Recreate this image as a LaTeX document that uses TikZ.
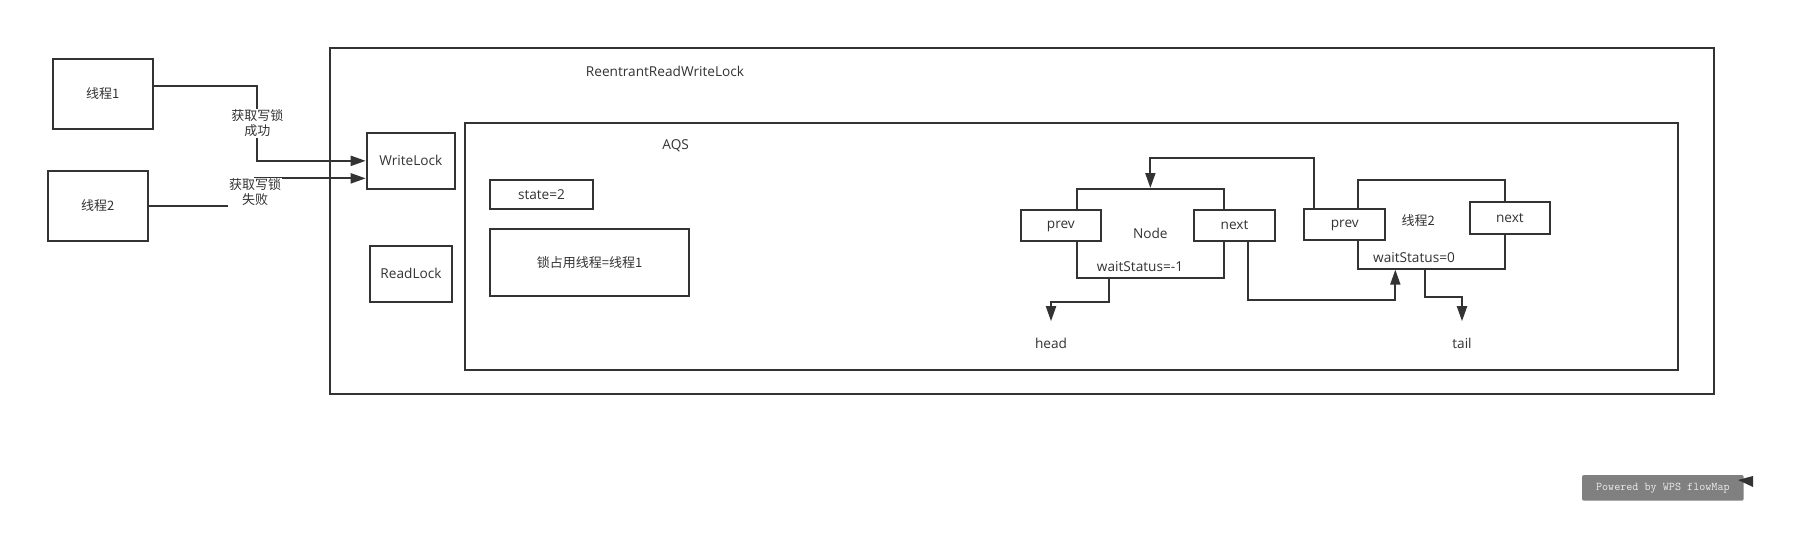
\documentclass[tikz,border=0pt]{standalone}
\usepackage{fontspec}
\setmainfont{Open Sans}[Scale=1.05]
\newfontfamily\cjk{Noto Sans CJK SC}
\usetikzlibrary{arrows.meta, calc}
\definecolor{ink}{HTML}{333333}
\definecolor{badgegray}{HTML}{808080}
\definecolor{badgetext}{HTML}{EBEBEB}

\begin{document}
\begin{tikzpicture}[x=1pt, y=1pt, line width=2pt, color=ink,
  font=\fontsize{13}{15}\selectfont,
  box/.style={draw, fill=white, inner sep=0pt},
  prevbox/.style={box, text height=0.9em},
  lbl/.style={fill=white, inner sep=1pt, align=center, font=\fontsize{13}{15}\selectfont\cjk},
  txt/.style={inner sep=2pt},
  arr/.style={-{Triangle[length=15pt, width=10pt]}},
  badge/.style={fill=badgegray, text=badgetext, rounded corners=2pt, inner sep=0pt,
    font=\ttfamily\fontsize{11.8}{13}\selectfont}]
  \useasboundingbox (0,0) rectangle (1806,-543);

  \node[box, minimum width=1384.5pt, minimum height=346.6pt] (rrwl) at (1021.75,-221) {};
  \node[txt] (rrwltitle) at (665,-71) {ReentrantReadWriteLock};
  \node[box, minimum width=1213.2pt, minimum height=247.5pt] (aqs) at (1071.4,-246.25) {};
  \node[txt] (aqstitle) at (675.7,-146) {AQS};

  \node[box, minimum width=100.3pt, minimum height=70.3pt] (t1) at (102.85,-93.85) {\cjk 线程1};
  \node[box, minimum width=100.3pt, minimum height=70.3pt] (t2) at (97.85,-205.85) {\cjk 线程2};
  \node[box, minimum width=88.3pt, minimum height=56.3pt] (wlock) at (410.85,-160.85) {WriteLock};
  \node[box, minimum width=82.6pt, minimum height=56.3pt] (rlock) at (411,-273.85) {ReadLock};
  \node[box, minimum width=103.6pt, minimum height=29.3pt] (state) at (541.5,-194.35) {state=2};
  \node[box, minimum width=199.6pt, minimum height=67.3pt] (owner) at (589.5,-262.35) {\cjk 锁占用线程=线程1};

  \node[box, minimum width=146.7pt, minimum height=88.7pt] (nd) at (1150.35,-233.35) {Node};
  \node[prevbox, minimum width=79.7pt, minimum height=31pt] (p1) at (1060.85,-225.2) {prev};
  \node[box, minimum width=81pt, minimum height=31pt] (x1) at (1234.5,-225.2) {next};
  \node[txt] (ws1) at (1140,-266.7) {waitStatus=-1};

  \node[box, minimum width=147.3pt, minimum height=88.7pt] (n2) at (1431.35,-224.35) {};
  \node[txt] (n2name) at (1418.3,-221) {\cjk 线程2};
  \node[prevbox, minimum width=81pt, minimum height=31.3pt] (p2) at (1344.8,-224.35) {prev};
  \node[box, minimum width=80.3pt, minimum height=31.4pt] (x2) at (1509.85,-218) {next};
  \node[txt] (ws2) at (1414,-257.3) {waitStatus=0};

  \node[txt] (head) at (1051,-343.3) {head};
  \node[txt] (tail) at (1462,-343.3) {tail};

  \draw[arr] ($(t1.east)+(0,8.15)$) -| node[lbl, pos=0.75] {获取写锁\\成功}
    ($(wlock.west)+(-108.4,0)$) -- (wlock.west);
  \draw[arr] (t2.east) -| node[lbl, pos=0.75] {获取写锁\\失败}
    ($(wlock.west)+(-110.7,-17.5)$) -- ($(wlock.west)+(0,-17.5)$);

  \draw[arr] ($(p2.north west)+(11,0)$) |- ($(nd.north)+(0,29.7)$) -- (nd.north);
  \draw[arr] ($(nd.south west)+(33,0)$) -- ++(0,-23.3) -| ($(head.north)+(0,13.85)$);
  \draw[arr] ($(x1.south)+(13.5,0)$) -- ++(0,-58) -| ($(n2.south west)+(38.6,0)$);
  \draw[arr] ($(n2.south west)+(68,0)$) -- ++(0,-27.3) -| ($(tail.north)+(0,13.85)$);

  \node[badge, minimum width=161.7pt, minimum height=25.7pt] (wps) at (1662.85,-487.85) {Powered by WPS flowMap};
  \fill (1738,-480) -- (1753,-476) -- (1753,-487) -- cycle;
\end{tikzpicture}
\end{document}
